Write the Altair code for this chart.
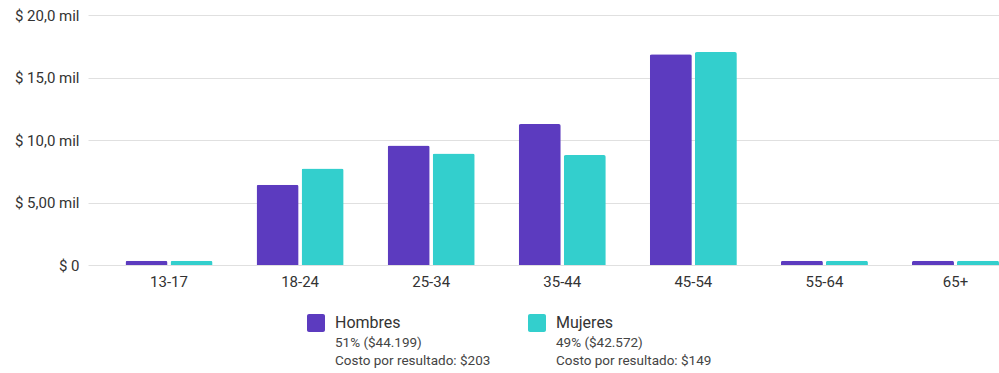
import altair as alt
import pandas as pd

# Age brackets and spend per gender (USD)
edades = ["13-17", "18-24", "25-34", "35-44", "45-54", "55-64", "65+"]
hombres = [350, 6420, 9570, 11280, 16860, 350, 350]
mujeres = [350, 7730, 8930, 8800, 17040, 350, 350]

generos = ["Hombres", "Mujeres"]
colores = ["#5c3bbf", "#33cfcd"]

# Y axis tick values and their labels
ticks_y = [0, 5000, 10000, 15000, 20000]
etiquetas_y = ["$ 0", "$ 5,00 mil", "$ 10,0 mil", "$ 15,0 mil", "$ 20,0 mil"]

# Legend texts
leyenda_pct = ["51% ($44.199)", "49% ($42.572)"]
leyenda_costo = ["Costo por resultado: $203", "Costo por resultado: $149"]

rows = []
for i, e in enumerate(edades):
    rows.append({"edad": e, "genero": "Hombres", "valor": hombres[i]})
    rows.append({"edad": e, "genero": "Mujeres", "valor": mujeres[i]})
df = pd.DataFrame(rows)

label_expr = " : ".join(
    f"datum.value == {v} ? '{t}'" for v, t in zip(ticks_y, etiquetas_y)
) + " : ''"

FONT = "Roboto"
TXT = "#333333"

bars = alt.Chart(df).mark_bar(
    cornerRadiusTopLeft=2, cornerRadiusTopRight=2
).encode(
    x=alt.X(
        "edad:N",
        sort=edades,
        title=None,
        scale=alt.Scale(paddingInner=0.336, paddingOuter=0.143, align=1),
        axis=alt.Axis(
            labelAngle=0, domain=False, ticks=False, tickSize=0,
            labelPadding=9, labelFontSize=15, labelColor=TXT, labelFont=FONT,
            grid=False,
        ),
    ),
    xOffset=alt.XOffset(
        "genero:N", sort=generos, scale=alt.Scale(paddingInner=0.067)
    ),
    y=alt.Y(
        "valor:Q",
        title=None,
        scale=alt.Scale(domain=[0, 20000], nice=False),
        axis=alt.Axis(
            values=ticks_y, labelExpr=label_expr, domain=False, ticks=False,
            tickSize=0, labelPadding=9, labelFontSize=15, labelColor=TXT,
            labelFont=FONT, gridColor="#e0e0e0", gridWidth=1,
        ),
    ),
    color=alt.Color(
        "genero:N", sort=generos,
        scale=alt.Scale(domain=generos, range=colores), legend=None,
    ),
)

# Custom legend below the plot
layers = [bars]
leg_x = [219, 440]
for i, g in enumerate(generos):
    d = pd.DataFrame({
        "genero": [g],
        "pct": [leyenda_pct[i]],
        "costo": [leyenda_costo[i]],
    })
    base = alt.Chart(d)
    x0 = leg_x[i]
    sw = base.mark_rect(cornerRadius=2, color=colores[i]).encode(
        x=alt.value(x0), x2=alt.value(x0 + 18),
        y=alt.value(299), y2=alt.value(317),
    )
    t1 = base.mark_text(
        align="left", baseline="alphabetic", fontSize=16, font=FONT, color=TXT
    ).encode(x=alt.value(x0 + 28), y=alt.value(313), text="genero:N")
    t2 = base.mark_text(
        align="left", baseline="alphabetic", fontSize=13.5, font=FONT, color="#444444"
    ).encode(x=alt.value(x0 + 28), y=alt.value(332), text="pct:N")
    t3 = base.mark_text(
        align="left", baseline="alphabetic", fontSize=13.5, font=FONT, color="#444444"
    ).encode(x=alt.value(x0 + 28), y=alt.value(350), text="costo:N")
    layers += [sw, t1, t2, t3]

chart = alt.layer(*layers).properties(
    width=911,
    height=250,
    background="white",
    autosize=alt.AutoSizeParams(type="none"),
    padding={"left": 88, "top": 15, "right": 0, "bottom": 108},
).configure_view(stroke="transparent", strokeWidth=0)

chart.save("out.html", embed_options={"renderer": "svg", "actions": False})
